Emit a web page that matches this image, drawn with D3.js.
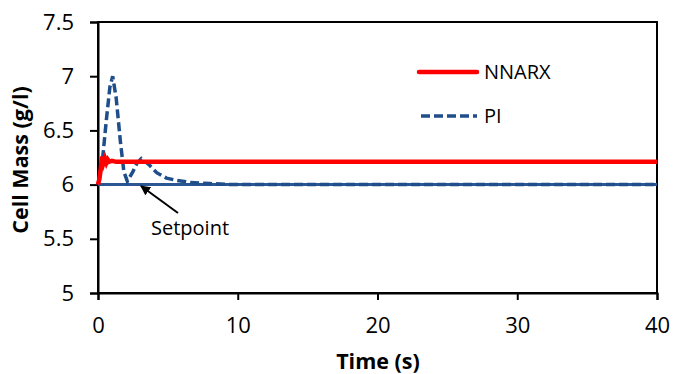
<!DOCTYPE html>
<html>
<head>
<meta charset="utf-8">
<script src="https://cdn.jsdelivr.net/npm/d3@7"></script>
<style>
  body{margin:0;background:#fff}
  svg text{font-family:"Open Sans",sans-serif;fill:#000}
</style>
</head>
<body>
<svg width="673" height="374"></svg>
<script>
// данные
const nnarxT=[0,0.1,0.2,0.3,0.4,0.5,0.6,0.7,0.8,1.0,1.3,1.8,40]
const nnarxV=[6.0,6.05,6.15,6.26,6.2,6.24,6.2,6.23,6.21,6.22,6.21,6.21,6.21]
const piT=[0,0.3,0.6,0.85,1.05,1.3,1.6,1.85,2.1,2.5,2.8,3.1,3.6,4.2,4.9,5.6,6.6,8,9.5,12,40]
const piV=[6.0,6.2,6.6,6.9,7.0,6.8,6.4,6.12,6.03,6.12,6.2,6.24,6.19,6.11,6.06,6.04,6.02,6.01,6.0,6.0,6.0]
const setT=[0,40]
const setV=[6,6]
const xTicks=[0,10,20,30,40]
const yTicks=[5,5.5,6,6.5,7,7.5]

const svg=d3.select('svg')
const x=d3.scaleLinear().domain([0,40]).range([98,657])
const y=d3.scaleLinear().domain([5,7.5]).range([293,22])

//рамка
svg.append('rect')
  .attr('x',x(0)).attr('y',y(7.5))
  .attr('width',x(40)-x(0)).attr('height',y(5)-y(7.5))
  .attr('fill','none').attr('stroke','#000').attr('stroke-width',2)

//оси
const xAxis=svg.append('g')
  .attr('transform',`translate(0,${y(5)})`)
  .call(d3.axisBottom(x).tickValues(xTicks).tickSize(7).tickPadding(17).tickFormat(d3.format('d')))
const yAxis=svg.append('g')
  .attr('transform',`translate(${x(0)},0)`)
  .call(d3.axisLeft(y).tickValues(yTicks).tickSize(8).tickPadding(16).tickFormat(d=>d))
for (const g of [xAxis,yAxis]){
  g.select('.domain').attr('stroke','#000').attr('stroke-width',2)
  g.selectAll('.tick line').attr('stroke','#000').attr('stroke-width',2)
  g.selectAll('.tick text').attr('font-size',22).attr('font-family','"Open Sans",sans-serif').attr('fill','#000')
}

const line=d3.line()
  .x((d)=>x(d[0]))
  .y((d)=>y(d[1]))

const zip=(a,b)=>a.map((t,i)=>[t,b[i]])

//уставка
svg.append('path')
  .attr('d',line(zip(setT,setV)))
  .attr('stroke','#2a5694').attr('stroke-width',3).attr('fill','none')

//PI
svg.append('path')
  .attr('d',line(zip(piT,piV)))
  .attr('stroke','#1f4e8a').attr('stroke-width',3.5).attr('stroke-dasharray','9,4')
  .attr('fill','none')

//NNARX
svg.append('path')
  .attr('d',line(zip(nnarxT,nnarxV)))
  .attr('stroke','#ff0000').attr('stroke-width',4.5).attr('fill','none')

//легенда
svg.append('line').attr('x1',419).attr('x2',477).attr('y1',72).attr('y2',72)
  .attr('stroke','#ff0000').attr('stroke-width',4.5).attr('stroke-linecap','round')
svg.append('text').attr('x',484).attr('y',79).attr('font-size',20).text('NNARX')
svg.append('line').attr('x1',421).attr('x2',477).attr('y1',116).attr('y2',116)
  .attr('stroke','#1f4e8a').attr('stroke-width',3.5).attr('stroke-dasharray','9,4')
svg.append('text').attr('x',484).attr('y',123).attr('font-size',20).text('PI')

//стрелка
const defs=svg.append('defs')
defs.append('marker').attr('id','arr').attr('viewBox','0 0 10 10')
  .attr('refX',9).attr('refY',5).attr('markerWidth',5).attr('markerHeight',5)
  .attr('orient','auto')
  .append('path').attr('d','M0,0L10,5L0,10z').attr('fill','#000')
svg.append('line').attr('x1',178).attr('y1',213).attr('x2',141).attr('y2',186)
  .attr('stroke','#000').attr('stroke-width',2).attr('marker-end','url(#arr)')
svg.append('text').attr('x',151).attr('y',235).attr('font-size',20).text('Setpoint')

//подписи осей
svg.append('text').attr('x',378).attr('y',369).attr('text-anchor','middle')
  .attr('font-size',21.5).attr('font-weight','bold').text('Time (s)')
svg.append('text').attr('transform','translate(28,160) rotate(-90)')
  .attr('text-anchor','middle').attr('font-size',21.5).attr('font-weight','bold')
  .text('Cell Mass (g/l)')
</script>
</body>
</html>
